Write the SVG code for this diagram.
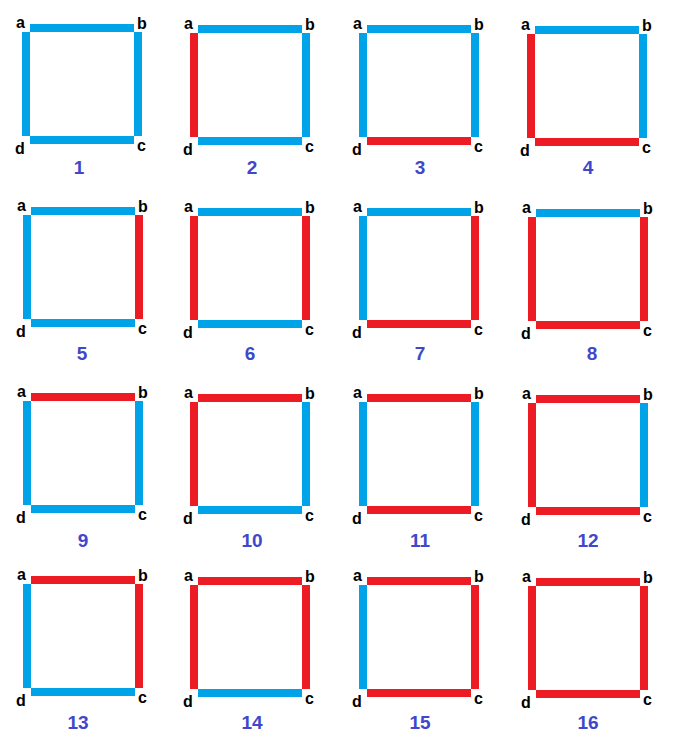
<svg xmlns="http://www.w3.org/2000/svg" width="678" height="753" viewBox="0 0 678 753">
<style>
.b{fill:#00a2e8}
.r{fill:#ed1c24}
.lb{font-family:"Liberation Sans",Arial,sans-serif;font-weight:bold;font-size:16px;fill:#000}
.n{font-family:"Liberation Sans",Arial,sans-serif;font-weight:bold;font-size:19px;fill:#3f48cc;text-anchor:middle}
</style>
<rect width="678" height="753" fill="#fff"/>
<g id="connectors"/>
<g id="sq1" transform="translate(22,24)">
<rect class="b" x="8" y="0" width="104" height="8"/><rect class="b" x="0" y="8" width="8" height="104"/><rect class="b" x="112" y="8" width="8" height="104"/><rect class="b" x="8" y="112" width="104" height="8"/>
<text class="lb" x="-6" y="4">a</text><text class="lb" x="115" y="5">b</text><text class="lb" x="115" y="127">c</text><text class="lb" x="-7" y="130">d</text><text class="n" x="57" y="150">1</text></g>
<g id="sq2" transform="translate(190,25)">
<rect class="b" x="8" y="0" width="104" height="8"/><rect class="r" x="0" y="8" width="8" height="104"/><rect class="b" x="112" y="8" width="8" height="104"/><rect class="b" x="8" y="112" width="104" height="8"/>
<text class="lb" x="-6" y="4">a</text><text class="lb" x="115" y="5">b</text><text class="lb" x="115" y="127">c</text><text class="lb" x="-7" y="130">d</text><text class="n" x="62" y="149">2</text></g>
<g id="sq3" transform="translate(359,25)">
<rect class="b" x="8" y="0" width="104" height="8"/><rect class="b" x="0" y="8" width="8" height="104"/><rect class="b" x="112" y="8" width="8" height="104"/><rect class="r" x="8" y="112" width="104" height="8"/>
<text class="lb" x="-6" y="4">a</text><text class="lb" x="115" y="5">b</text><text class="lb" x="115" y="127">c</text><text class="lb" x="-7" y="130">d</text><text class="n" x="61" y="149">3</text></g>
<g id="sq4" transform="translate(527,26)">
<rect class="b" x="8" y="0" width="104" height="8"/><rect class="r" x="0" y="8" width="8" height="104"/><rect class="b" x="112" y="8" width="8" height="104"/><rect class="r" x="8" y="112" width="104" height="8"/>
<text class="lb" x="-6" y="4">a</text><text class="lb" x="115" y="5">b</text><text class="lb" x="115" y="127">c</text><text class="lb" x="-7" y="130">d</text><text class="n" x="61" y="148">4</text></g>
<g id="sq5" transform="translate(23,207)">
<rect class="b" x="8" y="0" width="104" height="8"/><rect class="b" x="0" y="8" width="8" height="104"/><rect class="r" x="112" y="8" width="8" height="104"/><rect class="b" x="8" y="112" width="104" height="8"/>
<text class="lb" x="-6" y="4">a</text><text class="lb" x="115" y="5">b</text><text class="lb" x="115" y="127">c</text><text class="lb" x="-7" y="130">d</text><text class="n" x="59" y="153">5</text></g>
<g id="sq6" transform="translate(190,208)">
<rect class="b" x="8" y="0" width="104" height="8"/><rect class="r" x="0" y="8" width="8" height="104"/><rect class="r" x="112" y="8" width="8" height="104"/><rect class="b" x="8" y="112" width="104" height="8"/>
<text class="lb" x="-6" y="4">a</text><text class="lb" x="115" y="5">b</text><text class="lb" x="115" y="127">c</text><text class="lb" x="-7" y="130">d</text><text class="n" x="60" y="152">6</text></g>
<g id="sq7" transform="translate(359,208)">
<rect class="b" x="8" y="0" width="104" height="8"/><rect class="b" x="0" y="8" width="8" height="104"/><rect class="r" x="112" y="8" width="8" height="104"/><rect class="r" x="8" y="112" width="104" height="8"/>
<text class="lb" x="-6" y="4">a</text><text class="lb" x="115" y="5">b</text><text class="lb" x="115" y="127">c</text><text class="lb" x="-7" y="130">d</text><text class="n" x="61" y="152">7</text></g>
<g id="sq8" transform="translate(528,209)">
<rect class="b" x="8" y="0" width="104" height="8"/><rect class="r" x="0" y="8" width="8" height="104"/><rect class="r" x="112" y="8" width="8" height="104"/><rect class="r" x="8" y="112" width="104" height="8"/>
<text class="lb" x="-6" y="4">a</text><text class="lb" x="115" y="5">b</text><text class="lb" x="115" y="127">c</text><text class="lb" x="-7" y="130">d</text><text class="n" x="64" y="151">8</text></g>
<g id="sq9" transform="translate(23,393)">
<rect class="r" x="8" y="0" width="104" height="8"/><rect class="b" x="0" y="8" width="8" height="104"/><rect class="b" x="112" y="8" width="8" height="104"/><rect class="b" x="8" y="112" width="104" height="8"/>
<text class="lb" x="-6" y="4">a</text><text class="lb" x="115" y="5">b</text><text class="lb" x="115" y="127">c</text><text class="lb" x="-7" y="130">d</text><text class="n" x="60" y="154">9</text></g>
<g id="sq10" transform="translate(190,394)">
<rect class="r" x="8" y="0" width="104" height="8"/><rect class="r" x="0" y="8" width="8" height="104"/><rect class="b" x="112" y="8" width="8" height="104"/><rect class="b" x="8" y="112" width="104" height="8"/>
<text class="lb" x="-6" y="4">a</text><text class="lb" x="115" y="5">b</text><text class="lb" x="115" y="127">c</text><text class="lb" x="-7" y="130">d</text><text class="n" x="62" y="153">10</text></g>
<g id="sq11" transform="translate(359,394)">
<rect class="r" x="8" y="0" width="104" height="8"/><rect class="b" x="0" y="8" width="8" height="104"/><rect class="b" x="112" y="8" width="8" height="104"/><rect class="r" x="8" y="112" width="104" height="8"/>
<text class="lb" x="-6" y="4">a</text><text class="lb" x="115" y="5">b</text><text class="lb" x="115" y="127">c</text><text class="lb" x="-7" y="130">d</text><text class="n" x="61" y="153">11</text></g>
<g id="sq12" transform="translate(528,395)">
<rect class="r" x="8" y="0" width="104" height="8"/><rect class="r" x="0" y="8" width="8" height="104"/><rect class="b" x="112" y="8" width="8" height="104"/><rect class="r" x="8" y="112" width="104" height="8"/>
<text class="lb" x="-6" y="4">a</text><text class="lb" x="115" y="5">b</text><text class="lb" x="115" y="127">c</text><text class="lb" x="-7" y="130">d</text><text class="n" x="60" y="152">12</text></g>
<g id="sq13" transform="translate(23,576)">
<rect class="r" x="8" y="0" width="104" height="8"/><rect class="b" x="0" y="8" width="8" height="104"/><rect class="r" x="112" y="8" width="8" height="104"/><rect class="b" x="8" y="112" width="104" height="8"/>
<text class="lb" x="-6" y="4">a</text><text class="lb" x="115" y="5">b</text><text class="lb" x="115" y="127">c</text><text class="lb" x="-7" y="130">d</text><text class="n" x="55" y="153">13</text></g>
<g id="sq14" transform="translate(190,577)">
<rect class="r" x="8" y="0" width="104" height="8"/><rect class="r" x="0" y="8" width="8" height="104"/><rect class="r" x="112" y="8" width="8" height="104"/><rect class="b" x="8" y="112" width="104" height="8"/>
<text class="lb" x="-6" y="4">a</text><text class="lb" x="115" y="5">b</text><text class="lb" x="115" y="127">c</text><text class="lb" x="-7" y="130">d</text><text class="n" x="62" y="152">14</text></g>
<g id="sq15" transform="translate(359,577)">
<rect class="r" x="8" y="0" width="104" height="8"/><rect class="b" x="0" y="8" width="8" height="104"/><rect class="r" x="112" y="8" width="8" height="104"/><rect class="r" x="8" y="112" width="104" height="8"/>
<text class="lb" x="-6" y="4">a</text><text class="lb" x="115" y="5">b</text><text class="lb" x="115" y="127">c</text><text class="lb" x="-7" y="130">d</text><text class="n" x="61" y="152">15</text></g>
<g id="sq16" transform="translate(528,578)">
<rect class="r" x="8" y="0" width="104" height="8"/><rect class="r" x="0" y="8" width="8" height="104"/><rect class="r" x="112" y="8" width="8" height="104"/><rect class="r" x="8" y="112" width="104" height="8"/>
<text class="lb" x="-6" y="4">a</text><text class="lb" x="115" y="5">b</text><text class="lb" x="115" y="127">c</text><text class="lb" x="-7" y="130">d</text><text class="n" x="60" y="151">16</text></g>
</svg>
